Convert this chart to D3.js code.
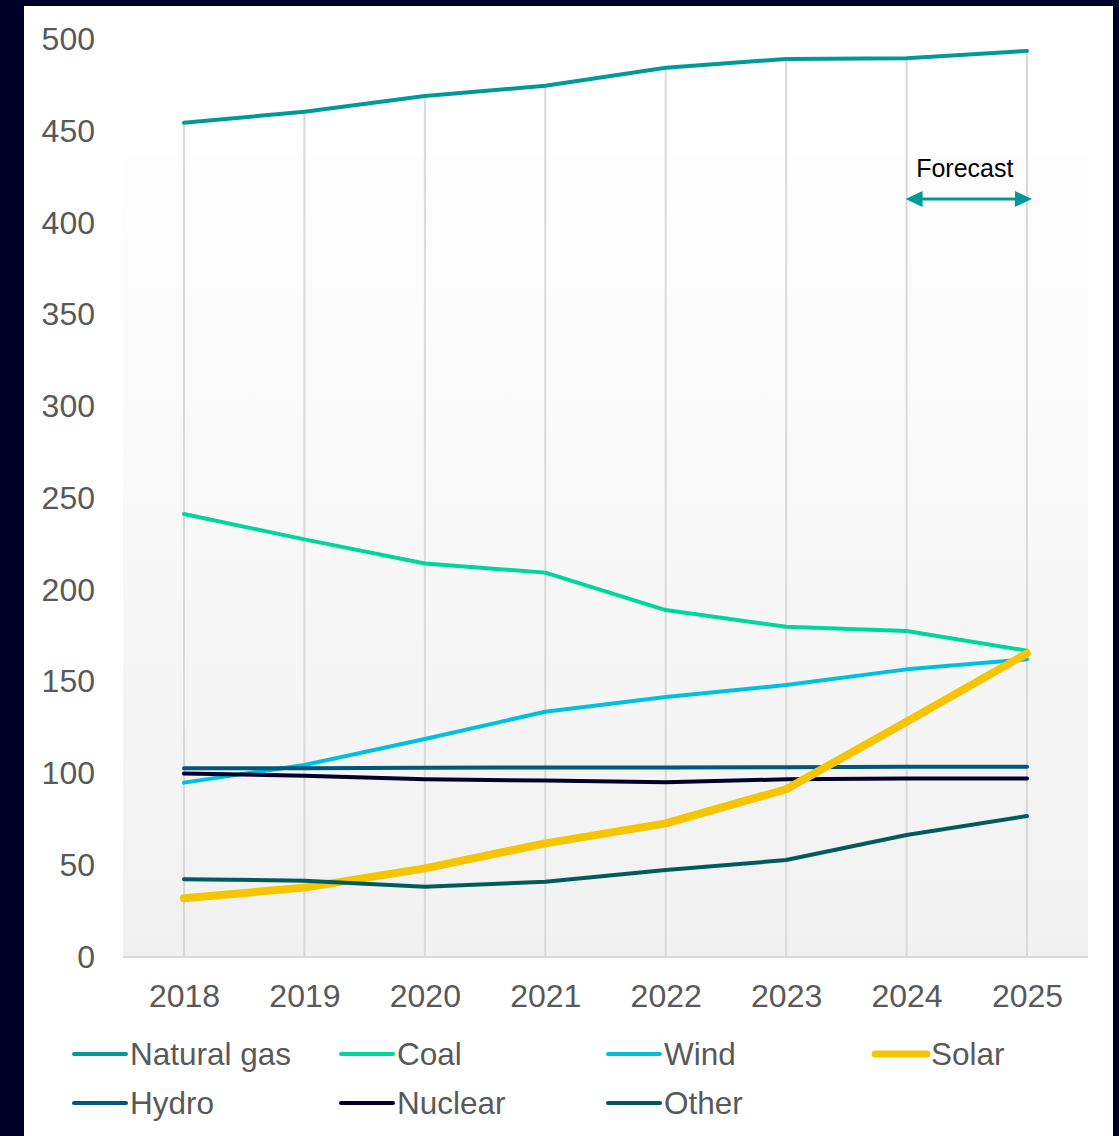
<!DOCTYPE html>
<html>
<head>
<meta charset="utf-8">
<script src="https://cdn.jsdelivr.net/npm/d3@7"></script>
<style>
  html, body { margin: 0; padding: 0; background: #000028; }
  svg { display: block; font-family: "Liberation Sans", Arial, sans-serif; }
</style>
</head>
<body>
<div id="plot"></div>
<script>
// data
const years = [2018, 2019, 2020, 2021, 2022, 2023, 2024, 2025];
const naturalGas = [454.5, 460.5, 469.1, 474.6, 484.5, 489.2, 489.6, 493.6];
const coal       = [241.3, 227.5, 214.4, 209.4, 189.0, 179.9, 177.6, 166.9];
const wind       = [95.0, 104.6, 118.8, 133.6, 141.6, 148.2, 156.7, 162.2];
const solar      = [32.0, 37.8, 48.3, 61.9, 72.8, 91.4, 128.2, 165.4];
const hydro      = [102.8, 102.8, 103.1, 103.2, 103.3, 103.4, 103.6, 103.7];
const nuclear    = [99.9, 98.8, 96.8, 96.1, 95.2, 96.8, 97.3, 97.3];
const other      = [42.3, 41.6, 38.3, 41.0, 47.4, 52.8, 66.5, 76.8];
const yTicks = [0, 50, 100, 150, 200, 250, 300, 350, 400, 450, 500];
const forecastYears = [2024, 2025];

const series = [
  { name: "Natural gas", values: naturalGas, color: "#00999a", w: 4 },
  { name: "Coal",        values: coal,       color: "#00d59b", w: 4 },
  { name: "Wind",        values: wind,       color: "#00bfdf", w: 4 },
  { name: "Hydro",       values: hydro,      color: "#00577e", w: 4 },
  { name: "Nuclear",     values: nuclear,    color: "#00002e", w: 4 },
  { name: "Solar",       values: solar,      color: "#f7c400", w: 8 },
  { name: "Other",       values: other,      color: "#005c59", w: 4 }
];

const W = 1119, H = 1136;
const plot = { left: 123, right: 1088, top: 155, bottom: 957 };

const x = d3.scaleLinear().domain([2018, 2025]).range([184, 1027]);
const y = d3.scaleLinear().domain([0, 500]).range([957, 39.2]);

const svg = d3.select("#plot").append("svg")
  .attr("width", W)
  .attr("height", H);

svg.append("rect").attr("width", W).attr("height", H).attr("fill", "#000028");
svg.append("rect")
  .attr("x", 24).attr("y", 6)
  .attr("width", 1089).attr("height", H - 6)
  .attr("fill", "#ffffff");

const grad = svg.append("defs").append("linearGradient")
  .attr("id", "bg").attr("x1", 0).attr("y1", 0).attr("x2", 0).attr("y2", 1);
grad.append("stop").attr("offset", "0%").attr("stop-color", "#fefefe");
grad.append("stop").attr("offset", "100%").attr("stop-color", "#f1f1f1");

svg.append("rect")
  .attr("x", plot.left).attr("y", plot.top)
  .attr("width", plot.right - plot.left)
  .attr("height", plot.bottom - plot.top)
  .attr("fill", "url(#bg)");

// drop lines from highest series to the baseline
svg.append("g").selectAll("line")
  .data(years)
  .enter()
  .append("line")
  .attr("x1", d => x(d))
  .attr("x2", d => x(d))
  .attr("y1", (d, i) => y(d3.max(series, s => s.values[i])))
  .attr("y2", y(0))
  .attr("stroke", "#d9d9d9")
  .attr("stroke-width", 2);

// baseline
svg.append("line")
  .attr("x1", plot.left).attr("x2", plot.right)
  .attr("y1", y(0)).attr("y2", y(0))
  .attr("stroke", "#d9d9d9")
  .attr("stroke-width", 2);

// axes
const yAxis = svg.append("g")
  .attr("transform", `translate(95,0)`)
  .call(d3.axisLeft(y).tickValues(yTicks).tickSize(0).tickPadding(0));
yAxis.select(".domain").remove();
yAxis.selectAll("text")
  .attr("fill", "#595959")
  .style("font-size", "32px")
  .style("font-family", "'Liberation Sans', Arial, sans-serif");

const xAxis = svg.append("g")
  .attr("transform", `translate(0,${y(0)})`)
  .call(d3.axisBottom(x).tickValues(years).tickFormat(d3.format("d")).tickSize(0).tickPadding(27));
xAxis.select(".domain").remove();
xAxis.selectAll("text")
  .attr("fill", "#595959")
  .style("font-size", "32px")
  .style("font-family", "'Liberation Sans', Arial, sans-serif");

// lines
const line = d3.line()
  .x((d, i) => x(years[i]))
  .y(d => y(d));

svg.append("g").selectAll("path")
  .data(series)
  .enter()
  .append("path")
  .attr("d", d => line(d.values))
  .attr("fill", "none")
  .attr("stroke", d => d.color)
  .attr("stroke-width", d => d.w)
  .attr("stroke-linejoin", "round")
  .attr("stroke-linecap", "round");

// forecast arrow
const ay = 199;
const ax1 = x(forecastYears[0]) - 1, ax2 = x(forecastYears[1]) + 5;
const teal = "#00999a";
svg.append("line")
  .attr("x1", ax1 + 10).attr("x2", ax2 - 10)
  .attr("y1", ay).attr("y2", ay)
  .attr("stroke", teal).attr("stroke-width", 3);
svg.append("path")
  .attr("d", `M${ax1},${ay} L${ax1 + 17},${ay - 8} L${ax1 + 17},${ay + 8} Z`)
  .attr("fill", teal);
svg.append("path")
  .attr("d", `M${ax2},${ay} L${ax2 - 17},${ay - 8} L${ax2 - 17},${ay + 8} Z`)
  .attr("fill", teal);
svg.append("text")
  .attr("x", (ax1 + ax2) / 2 - 4)
  .attr("y", 177)
  .attr("text-anchor", "middle")
  .attr("fill", "#000000")
  .style("font-size", "25px")
  .text("Forecast");

// legend
const legendOrder = ["Natural gas", "Coal", "Wind", "Solar", "Hydro", "Nuclear", "Other"];
const colX = [72, 339, 606, 873];
const rowY = [1054, 1103];
const legend = svg.append("g").selectAll("g")
  .data(legendOrder.map((n, i) => ({ s: series.find(s => s.name === n), i })))
  .enter()
  .append("g")
  .attr("transform", d => `translate(${colX[d.i % 4]},${rowY[Math.floor(d.i / 4)]})`);

legend.append("line")
  .attr("x1", 2).attr("x2", 54)
  .attr("stroke", d => d.s.color)
  .attr("stroke-width", d => d.s.w === 8 ? 7 : 4)
  .attr("stroke-linecap", "round");

legend.append("text")
  .attr("x", 58)
  .attr("y", 11)
  .attr("fill", "#595959")
  .style("font-size", "31.5px")
  .text(d => d.s.name);
</script>
</body>
</html>
